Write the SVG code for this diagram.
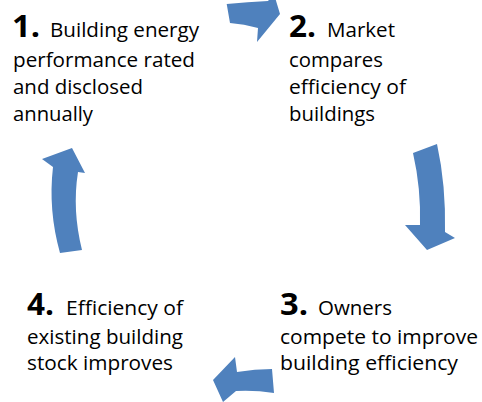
<svg xmlns="http://www.w3.org/2000/svg" width="482" height="402" viewBox="0 0 482 402">
<style>
.n{font-family:"Open Sans","Liberation Sans",sans-serif;font-weight:bold;font-size:30px;fill:#000}
.t{font-family:"Open Sans","Liberation Sans",sans-serif;font-size:20px;fill:#000}
.a{fill:#4F81BD;stroke:none}
</style>
<rect width="482" height="402" fill="#fff"/>
<g id="connectors">
<path class="a" d="M226.7,4 Q248,2 268,1 L274,-6 L280,14 L257,42 L258,28 Q244,24 230,23 Z"/>
<path class="a" d="M413,153 L437,144 Q446,185 445,232 L455,238 L427,250 L405,225 L420,225 Q421,188 413,153 Z"/>
<path class="a" d="M213,380 L235,357 L237,372 Q255,369 272,369 L274,393 Q255,390 236,391 L223,402 Z"/>
<path class="a" d="M72,148 L42,159 L53,167 Q48,210 60,253 L82,250 Q72,210 78,172 L85,173 Z"/>
</g>
<g id="node1">
<text class="n" x="12" y="37" textLength="28" lengthAdjust="spacingAndGlyphs">1.</text>
<text class="t" x="50" y="37" textLength="149" lengthAdjust="spacingAndGlyphs">Building energy</text>
<text class="t" x="13" y="67" textLength="182" lengthAdjust="spacingAndGlyphs">performance rated</text>
<text class="t" x="13" y="94" textLength="130" lengthAdjust="spacingAndGlyphs">and disclosed</text>
<text class="t" x="13" y="121" textLength="80" lengthAdjust="spacingAndGlyphs">annually</text>
</g>
<g id="node2">
<text class="n" x="289" y="37" textLength="27" lengthAdjust="spacingAndGlyphs">2.</text>
<text class="t" x="327" y="37" textLength="68" lengthAdjust="spacingAndGlyphs">Market</text>
<text class="t" x="289" y="67" textLength="94" lengthAdjust="spacingAndGlyphs">compares</text>
<text class="t" x="289" y="94" textLength="117" lengthAdjust="spacingAndGlyphs">efficiency of</text>
<text class="t" x="289" y="121" textLength="86" lengthAdjust="spacingAndGlyphs">buildings</text>
</g>
<g id="node3">
<text class="n" x="280" y="315" textLength="28" lengthAdjust="spacingAndGlyphs">3.</text>
<text class="t" x="318" y="315" textLength="74" lengthAdjust="spacingAndGlyphs">Owners</text>
<text class="t" x="280" y="344" textLength="198" lengthAdjust="spacingAndGlyphs">compete to improve</text>
<text class="t" x="280" y="370" textLength="178" lengthAdjust="spacingAndGlyphs">building efficiency</text>
</g>
<g id="node4">
<text class="n" x="27" y="315" textLength="27" lengthAdjust="spacingAndGlyphs">4.</text>
<text class="t" x="66" y="315" textLength="117" lengthAdjust="spacingAndGlyphs">Efficiency of</text>
<text class="t" x="27" y="344" textLength="156" lengthAdjust="spacingAndGlyphs">existing building</text>
<text class="t" x="27" y="370" textLength="146" lengthAdjust="spacingAndGlyphs">stock improves</text>
</g>
</svg>
